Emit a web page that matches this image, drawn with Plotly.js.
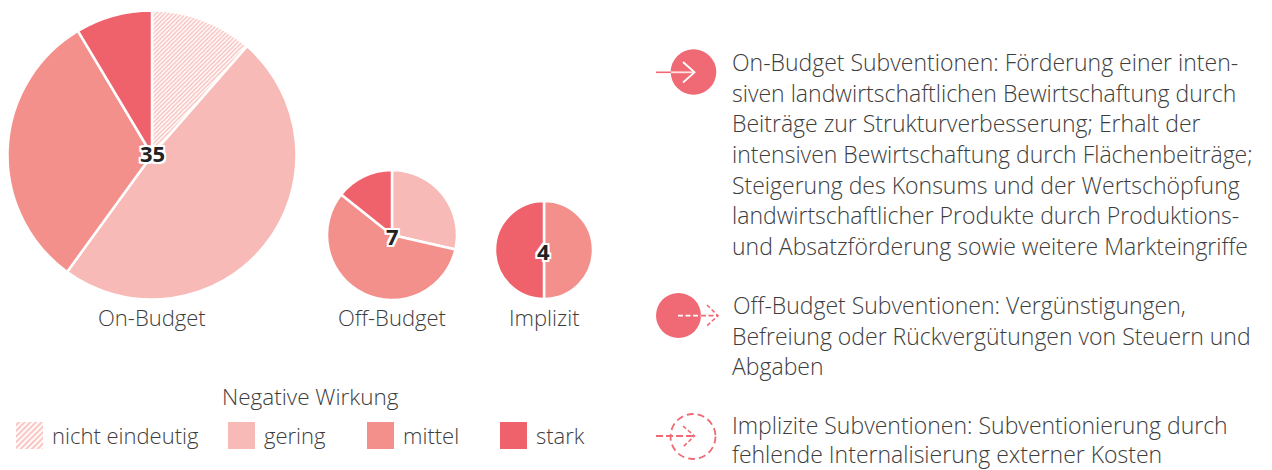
<!DOCTYPE html>
<html><head><meta charset="utf-8">
<script src="https://cdn.plot.ly/plotly-3.0.1.min.js"></script>
<style>html,body{margin:0;padding:0;background:#fff}#c{width:1272px;height:470px}</style>
</head><body><div id="c"></div>
<script>
const W=1272,H=470;
const categories=['nicht eindeutig','gering','mittel','stark'];
const catColors=['#F9C3BF','#F7BAB6','#F4908B','#EF626C'];
const onBudget=[4,17,11,3];
const offBudget=[0,2,4,1];
const implizit=[0,0,2,2];
const pieNames=['On-Budget','Off-Budget','Implizit'];
const pieTotals=[35,7,4];
const textOn=['On-Budget Subventionen: Förderung einer inten-','siven landwirtschaftlichen Bewirtschaftung durch','Beiträge zur Strukturverbesserung; Erhalt der','intensiven Bewirtschaftung durch Flächenbeiträge;','Steigerung des Konsums und der Wertschöpfung','landwirtschaftlicher Produkte durch Produktions-','und Absatzförderung sowie weitere Markteingriffe'];
const textOff=['Off-Budget Subventionen: Vergünstigungen,','Befreiung oder Rückvergütungen von Steuern und','Abgaben'];
const textImp=['Implizite Subventionen: Subventionierung durch','fehlende Internalisierung externer Kosten'];

const FONT='"Open Sans",sans-serif', TXT='#3d3d3d';
const f=(size,extra)=>Object.assign({family:FONT,size:size,color:TXT,weight:300},extra||{});
function pie(vals,box,name){
  return {type:'pie',name:name,labels:categories,values:vals,sort:false,direction:'clockwise',rotation:0,
    textinfo:'none',hoverinfo:'label+value',showlegend:false,
    domain:{x:[box[0]/W,box[1]/W],y:[1-box[3]/H,1-box[2]/H]},
    marker:{colors:catColors,line:{color:'#fff',width:2.5},
      pattern:{shape:['/','','',''],fgcolor:catColors,bgcolor:['#fff',catColors[1],catColors[2],catColors[3]],size:3,solidity:0.5,fillmode:'replace'}}};
}
const swatchX=[29.5,241.5,380.5,513.5];
const swatches={type:'bar',x:swatchX,y:[27,27,27,27],base:422,width:27,xaxis:'x',yaxis:'y',
  hoverinfo:'text',hovertext:categories,showlegend:false,
  marker:{color:catColors,line:{width:0},pattern:{shape:['/','','',''],fgcolor:catColors,bgcolor:['#fff',catColors[1],catColors[2],catColors[3]],size:4,solidity:0.5}}};
const data=[pie(onBudget,[7.5,296.5,10.5,299.5],pieNames[0]),pie(offBudget,[327,457,170,300],pieNames[1]),pie(implizit,[495,593,201,299],pieNames[2]),swatches];

const ann=[];
const add=(x,y,t,font,xa)=>ann.push({x:x,y:y,xref:'x',yref:'y',text:t,showarrow:false,xanchor:xa||'left',yanchor:'middle',font:font,align:'left'});
const pitch=30.65;
textOn.forEach((t,i)=>add(730,62+i*pitch,t,f(23)));
textOff.forEach((t,i)=>add(i?730:731,305+i*pitch,t,f(23)));
const impY=[425,454];
textImp.forEach((t,i)=>add(730,impY[i],t,f(23)));
[152,392,544].forEach((x,i)=>add(x,317,pieNames[i],f(22),'center'));
add(310.5,396,'Negative Wirkung',f(22.5),'center');
[50,262,401,534].forEach((x,i)=>add(x,435,categories[i],f(22)));
const so='-2px 0 0 #fff,2px 0 0 #fff,0 -2px 0 #fff,0 2px 0 #fff,-2px -2px 0 #fff,2px 2px 0 #fff,-2px 2px 0 #fff,2px -2px 0 #fff';
[[152,153],[392,236],[543,251]].forEach((p,i)=>add(p[0],p[1],String(pieTotals[i]),{family:FONT,size:22,color:'#222',weight:700,shadow:so},'center'));

const R='#EF6A74';
const circle=(cx,cy,r,o)=>Object.assign({type:'circle',xref:'x',yref:'y',x0:cx-r,x1:cx+r,y0:cy-r,y1:cy+r},o);
const path=(d,color,w,dash)=>({type:'path',xref:'x',yref:'y',path:d,line:{color:color,width:w,dash:dash||'solid'}});
const shapes=[
  circle(693.5,72,22.8,{fillcolor:R,line:{width:0}}),
  path('M656,72.3L671,72.3',R,1.6),
  path('M671,72.3L694,72.3','#FFE3E3',1.8),
  path('M683,62L694.5,72.3L683,82.5','#fff',1.8),
  circle(678.5,315.5,22.5,{fillcolor:R,line:{width:0}}),
  path('M678,315.7L701,315.7','#fff',1.8,'5px,2.5px'),
  path('M701,315.7L717,315.7',R,1.8,'5px,2.5px'),
  path('M707,305L718,315.7L707,325.7',R,1.6,'4px,2.5px'),
  circle(693,436.5,22.5,{fillcolor:'rgba(0,0,0,0)',line:{color:R,width:1.8,dash:'7px,4px'}}),
  path('M656,436L694,436',R,1.8,'7px,3px'),
  path('M683,426L694.5,436L683,447',R,1.6,'4px,2.5px')
];
const layout={width:W,height:H,margin:{l:0,r:0,t:0,b:0},paper_bgcolor:'#fff',plot_bgcolor:'rgba(0,0,0,0)',showlegend:false,
  xaxis:{range:[0,W],domain:[0,1],visible:false,fixedrange:true},
  yaxis:{range:[H,0],domain:[0,1],visible:false,fixedrange:true},
  annotations:ann,shapes:shapes,font:{family:FONT}};
Plotly.newPlot('c',data,layout,{displayModeBar:false,staticPlot:true});
</script></body></html>
